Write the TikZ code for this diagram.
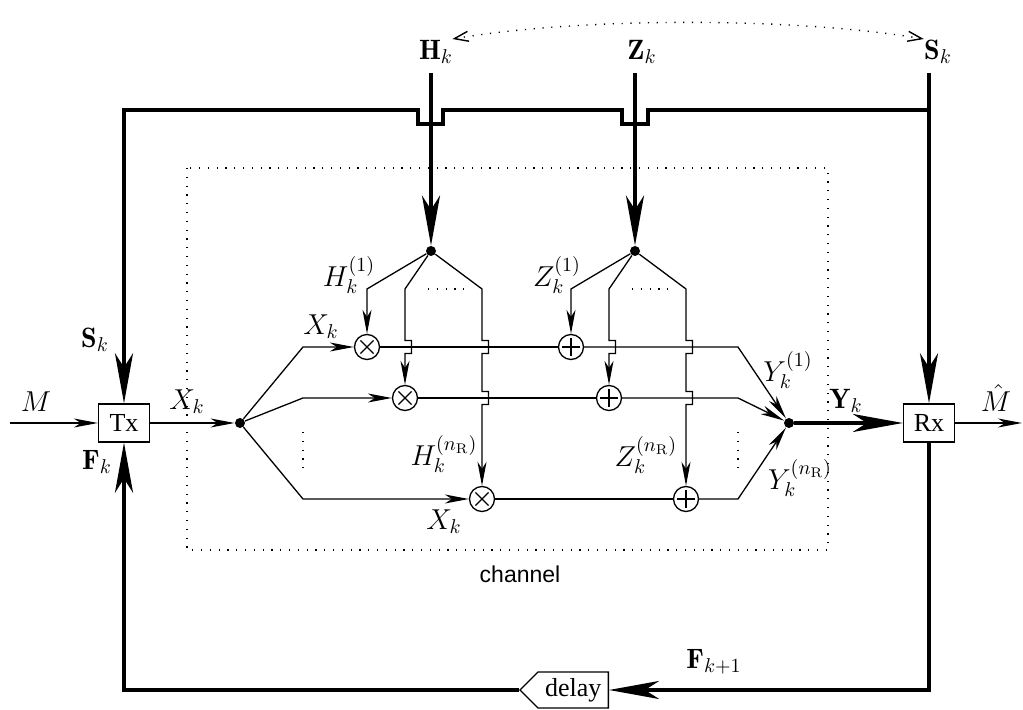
\documentclass[tikz,border=0pt]{standalone}
\usepackage{fontspec}
\newfontfamily\timesf{Liberation Serif}
\newfontfamily\helvf{Liberation Sans}
\usetikzlibrary{arrows.meta,shapes.symbols}
\begin{document}
\begin{tikzpicture}[x=0.5pt,y=-0.5pt,
  font=\fontsize{14}{16}\selectfont,
  thinl/.style={line width=0.65pt},
  arr/.style={line width=0.65pt,-{Stealth[length=12pt,width=4.5pt,inset=3.5pt]}},
  bigarr/.style={line width=2pt,-{Stealth[length=25pt,width=9pt,inset=7pt]}},
  dotpat/.style={line width=0.7pt,dash pattern=on 0.6pt off 3.8pt},
  blk/.style={draw,line width=0.65pt,minimum width=25.5pt,minimum height=19pt,inner sep=0pt,font=\timesf\fontsize{13}{15}\selectfont},
  dotnode/.style={circle,fill,inner sep=0pt,minimum size=5pt},
  mult/.style={circle,draw,line width=0.65pt,minimum size=12.5pt,inner sep=0pt,
    path picture={\draw[line width=0.6pt]
      ([shift={(-3.3pt,-3.3pt)}]path picture bounding box.center) -- ([shift={(3.3pt,3.3pt)}]path picture bounding box.center)
      ([shift={(-3.3pt,3.3pt)}]path picture bounding box.center) -- ([shift={(3.3pt,-3.3pt)}]path picture bounding box.center);}},
  addn/.style={circle,draw,line width=0.65pt,minimum size=12.5pt,inner sep=0pt,
    path picture={\draw[line width=0.6pt]
      ([shift={(-4.4pt,0pt)}]path picture bounding box.center) -- ([shift={(4.4pt,0pt)}]path picture bounding box.center)
      ([shift={(0pt,-4.4pt)}]path picture bounding box.center) -- ([shift={(0pt,4.4pt)}]path picture bounding box.center);}},
  lbl/.style={inner sep=0pt}
]
\useasboundingbox (0,0) rectangle (1023,710);

% channel box
\draw[dotpat] (187,168) rectangle (828,550);
\node[lbl,font=\helvf\fontsize{11.5}{13}\selectfont] (chan) at (520,574) {channel};

% blocks
\node[blk] (Tx) at (124,423) {Tx};
\node[blk] (Rx) at (929,423) {Rx};
\node[draw,line width=0.65pt,shape=signal,signal to=west,signal pointer angle=90,
      minimum height=18pt,inner xsep=3.5pt,inner ysep=0pt,anchor=east,
      font=\timesf\fontsize{13}{15}\selectfont] (delay) at (609,690) {delay};

% top labels and sources
\node[lbl] (Hk) at (436,52) {$\mathbf{H}_k$};
\node[lbl] (Zk) at (642,52) {$\mathbf{Z}_k$};
\node[lbl] (Sk) at (938,52) {$\mathbf{S}_k$};
\coordinate (Htop) at (431,73);
\coordinate (Ztop) at (635,73);
\coordinate (Stop) at (929,73);
\draw[dotpat,{Straight Barb[length=7pt,width=5pt]}-{Straight Barb[length=7pt,width=5pt]}]
  ([shift={(-0.5pt,6.5pt)}]Hk.east) .. controls +(130,-22) and +(-130,-22) .. ([shift={(0pt,6.5pt)}]Sk.west);

% split / combine points
\node[dotnode] (Hs) at (431,251) {};
\node[dotnode] (Zs) at (635,251) {};
\node[dotnode] (Xs) at (240,423) {};
\node[dotnode] (Yc) at (789,423) {};

% multipliers and adders
\node[mult] (m1) at (367,347) {};
\node[mult] (m2) at (405,398) {};
\node[mult] (m3) at (482,499) {};
\node[addn] (a1) at (571,347) {};
\node[addn] (a2) at (609,398) {};
\node[addn] (a3) at (686,499) {};

% thick feed lines
\draw[bigarr] (Htop) -- (Hs);
\draw[bigarr] (Ztop) -- (Zs);
\draw[bigarr] (Stop) -- (Rx.north);
\draw[bigarr] (929,110) -- (648,110) -- (648,124) -- (622,124) -- (622,110)
   -- (443,110) -- (443,124) -- (418,124) -- (418,110) -- (124,110) -- (Tx.north);
\draw[bigarr] (Rx.south) -- (929,690) -- (delay.east);
\draw[bigarr] (delay.west) -- (124,690) -- (Tx.south);
\draw[bigarr] (Yc) -- (Rx.west);

% input / output
\coordinate (Min) at (10,423);
\coordinate (Mout) at (1022,423);
\draw[arr] (Min) -- (Tx.west);
\draw[arr] (Rx.east) -- (Mout);
\draw[arr] (Tx.east) -- (Xs);

% rows
\draw[arr] (Xs) -- (303,347) -- (m1.west);
\draw[arr] (Xs) -- (303,398) -- (m2.west);
\draw[arr] (Xs) -- (303,499) -- (m3.west);
\draw[thinl] (m1.east) -- (a1.west);
\draw[thinl] (m2.east) -- (a2.west);
\draw[thinl] (m3.east) -- (a3.west);
\draw[arr] (a1.east) -- (738,347) -- (Yc);
\draw[arr] (a2.east) -- (738,398) -- (Yc);
\draw[arr] (a3.east) -- (738,499) -- (Yc);

% H branches
\draw[arr] (Hs) -- (367,289) -- (m1.north);
\draw[arr] (Hs) -- (405,289) -- (405,340.5) -- (411.5,340.5) -- (411.5,353.5) -- (405,353.5) -- (m2.north);
\draw[arr] (Hs) -- (482,289) -- (482,340.5) -- (488.5,340.5) -- (488.5,353.5) -- (482,353.5)
   -- (482,391.5) -- (488.5,391.5) -- (488.5,404.5) -- (482,404.5) -- (m3.north);
% Z branches
\draw[arr] (Zs) -- (571,289) -- (a1.north);
\draw[arr] (Zs) -- (609,289) -- (609,340.5) -- (615.5,340.5) -- (615.5,353.5) -- (609,353.5) -- (a2.north);
\draw[arr] (Zs) -- (686,289) -- (686,340.5) -- (692.5,340.5) -- (692.5,353.5) -- (686,353.5)
   -- (686,391.5) -- (692.5,391.5) -- (692.5,404.5) -- (686,404.5) -- (a3.north);

% ellipsis dots
\draw[dotpat] (428,289) -- (465,289);
\draw[dotpat] (632,289) -- (669,289);
\draw[dotpat] (303,432) -- (303,470);
\draw[dotpat] (738,432) -- (738,470);

% labels
\node[lbl] (lM) at (36,402) {$M$};
\node[lbl] (lMh) at (996,398) {$\hat{M}$};
\node[lbl] (lX0) at (187,402) {$X_k$};
\node[lbl] (lSl) at (95,340) {$\mathbf{S}_k$};
\node[lbl] (lFk) at (97,462) {$\mathbf{F}_k$};
\node[lbl] (lF1) at (714,662) {$\mathbf{F}_{k+1}$};
\node[lbl] (lYk) at (846,401) {$\mathbf{Y}_k$};
\node[lbl] (lH1) at (349,275) {$H_k^{(1)}$};
\node[lbl] (lX1) at (321,327) {$X_k$};
\node[lbl] (lHn) at (444,454) {$H_k^{(n_{\mathrm{R}})}$};
\node[lbl] (lX3) at (444,522) {$X_k$};
\node[lbl] (lZ1) at (557,275) {$Z_k^{(1)}$};
\node[lbl] (lZn) at (646,455) {$Z_k^{(n_{\mathrm{R}})}$};
\node[lbl] (lY1) at (788,370) {$Y_k^{(1)}$};
\node[lbl] (lYn) at (800,478) {$Y_k^{(n_{\mathrm{R}})}$};
\end{tikzpicture}
\end{document}
